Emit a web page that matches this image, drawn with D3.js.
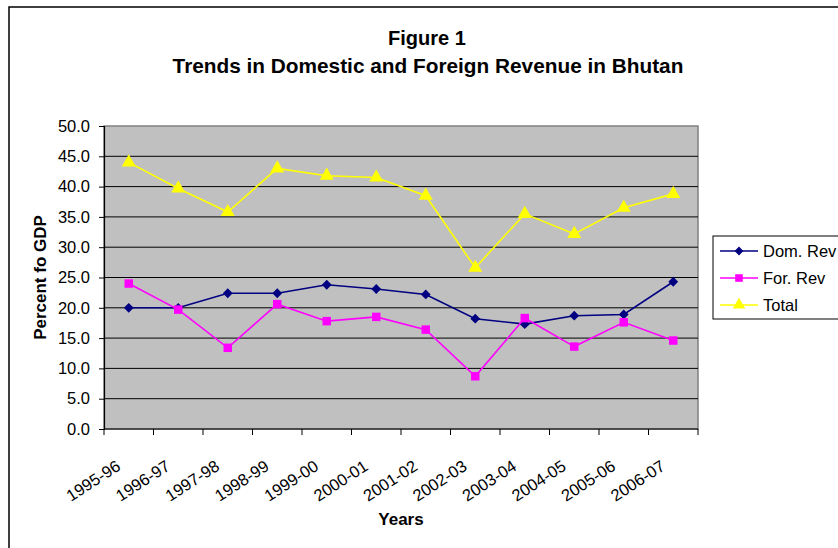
<!DOCTYPE html>
<html>
<head>
<meta charset="utf-8">
<script src="https://cdn.jsdelivr.net/npm/d3@7"></script>
<style>
  html, body { margin: 0; padding: 0; background: #fff; }
  svg { display: block; font-family: Arial, "Liberation Sans", sans-serif; }
</style>
</head>
<body>
<svg id="chart" width="838" height="548"></svg>
<script>
const categories = ["1995-96","1996-97","1997-98","1998-99","1999-00","2000-01","2001-02","2002-03","2003-04","2004-05","2005-06","2006-07"];
const domRev  = [20.0, 20.0, 22.4, 22.4, 23.8, 23.1, 22.2, 18.2, 17.3, 18.7, 18.9, 24.3];
const forRev  = [24.0, 19.7, 13.4, 20.6, 17.8, 18.5, 16.4, 8.7, 18.3, 13.6, 17.6, 14.6];
const total   = [44.0, 39.7, 35.8, 43.0, 41.8, 41.5, 38.5, 26.6, 35.5, 32.2, 36.5, 38.8];
const yTicks  = [0, 5, 10, 15, 20, 25, 30, 35, 40, 45, 50];
const seriesNames = ["Dom. Rev", "For. Rev", "Total"];

const svg = d3.select("#chart");
const L = 104, R = 698, T = 126, B = 429;
const FS = 16.5;

// outer frame
svg.append("rect").attr("x", 9).attr("y", 7).attr("width", 860).attr("height", 560)
  .attr("fill", "#fff").attr("stroke", "#000").attr("stroke-width", 1.5);

const x = d3.scaleBand().domain(categories).range([L, R]).paddingInner(0).paddingOuter(0);
const y = d3.scaleLinear().domain([0, 50]).range([B, T]);

// plot background
svg.append("rect").attr("x", L).attr("y", T).attr("width", R - L).attr("height", B - T)
  .attr("fill", "#C0C0C0").attr("stroke", "#808080").attr("stroke-width", 1.5);

// gridlines
svg.append("g").selectAll("line").data(yTicks.filter(d => d > 0 && d < 50)).join("line")
  .attr("x1", L).attr("x2", R).attr("y1", d => y(d)).attr("y2", d => y(d))
  .attr("stroke", "#000").attr("stroke-width", 1);

// y axis
const yAxis = d3.axisLeft(y).tickValues(yTicks).tickFormat(d3.format(".1f")).tickSize(5).tickPadding(9);
const gy = svg.append("g").attr("transform", `translate(${L},0)`).call(yAxis);
gy.select(".domain").attr("stroke", "#000").attr("stroke-width", 1.2);
gy.selectAll(".tick line").attr("stroke", "#000");
gy.selectAll("text").attr("font-size", FS).attr("fill", "#000")
  .attr("font-family", "Arial, 'Liberation Sans', sans-serif");

// x axis with ticks at band boundaries
const gx = svg.append("g").attr("transform", `translate(0,${B})`);
gx.append("line").attr("x1", L).attr("x2", R).attr("y1", 0).attr("y2", 0)
  .attr("stroke", "#000").attr("stroke-width", 1.2);
const boundaries = categories.map(c => x(c)).concat([R]);
gx.selectAll("line.tk").data(boundaries).join("line").attr("class", "tk")
  .attr("x1", d => d).attr("x2", d => d).attr("y1", 0).attr("y2", 6)
  .attr("stroke", "#000");
gx.selectAll("text").data(categories).join("text")
  .attr("transform", d => `translate(${x(d) + x.bandwidth() / 2 - 7},${40}) rotate(-33)`)
  .attr("text-anchor", "end")
  .attr("font-size", FS)
  .attr("fill", "#000")
  .text(d => d);

// lines and markers
const cx = (d, i) => x(categories[i]) + x.bandwidth() / 2;
const line = d3.line().x((d, i) => cx(d, i)).y(d => y(d));
const series = [
  { name: seriesNames[0], values: domRev, color: "#000080", sym: d3.symbolSquare, size: 48, rot: 45 },
  { name: seriesNames[1], values: forRev, color: "#FF00FF", sym: d3.symbolSquare, size: 72, rot: 0 },
  { name: seriesNames[2], values: total,  color: "#FFFF00", sym: d3.symbolTriangle, size: 85, rot: 0 }
];
series.forEach(s => {
  svg.append("path").datum(s.values).attr("d", line)
    .attr("fill", "none").attr("stroke", s.color).attr("stroke-width", 1.6);
  svg.append("g").selectAll("path").data(s.values).join("path")
    .attr("transform", (d, i) => `translate(${cx(d, i)},${y(d)}) rotate(${s.rot})`)
    .attr("d", d3.symbol().type(s.sym).size(s.size))
    .attr("fill", s.color);
});

// titles
svg.append("text").attr("x", 427).attr("y", 45).attr("text-anchor", "middle")
  .attr("font-size", 20).attr("font-weight", "bold").text("Figure 1");
svg.append("text").attr("x", 428).attr("y", 73).attr("text-anchor", "middle")
  .attr("font-size", 20.8).attr("font-weight", "bold").text("Trends in Domestic and Foreign Revenue in Bhutan");

// axis titles
svg.append("text").attr("transform", `translate(46,${(T + B) / 2}) rotate(-90)`)
  .attr("text-anchor", "middle").attr("font-size", 17).attr("font-weight", "bold")
  .text("Percent fo GDP");
svg.append("text").attr("x", (L + R) / 2).attr("y", 525).attr("text-anchor", "middle")
  .attr("font-size", 17).attr("font-weight", "bold").text("Years");

// legend
const lg = svg.append("g");
lg.append("rect").attr("x", 713).attr("y", 236).attr("width", 140).attr("height", 83)
  .attr("fill", "#fff").attr("stroke", "#000").attr("stroke-width", 1);
series.forEach((s, i) => {
  const ly = 251 + i * 27;
  lg.append("line").attr("x1", 720).attr("x2", 758).attr("y1", ly).attr("y2", ly)
    .attr("stroke", s.color).attr("stroke-width", 1.6);
  lg.append("path").attr("transform", `translate(739,${ly}) rotate(${s.rot})`)
    .attr("d", d3.symbol().type(s.sym).size(s.size * 0.8)).attr("fill", s.color);
  lg.append("text").attr("x", 763).attr("y", ly).attr("dy", "0.35em")
    .attr("font-size", FS).attr("fill", "#000").text(s.name);
});
</script>
</body>
</html>
